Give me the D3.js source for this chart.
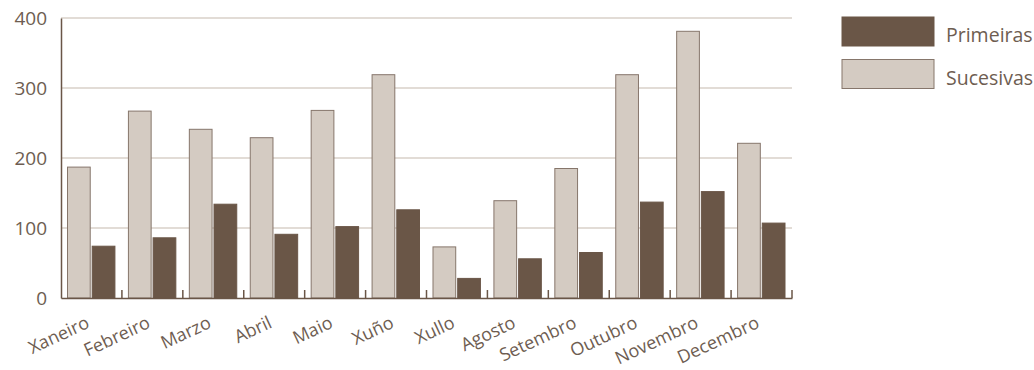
<!DOCTYPE html>
<html><head><meta charset="utf-8">
<script src="https://cdn.jsdelivr.net/npm/d3@7"></script>
<style>body{margin:0;background:#fff;} text{font-family:"Open Sans",sans-serif;}</style>
</head><body><svg id="c" width="1034" height="370"></svg>
<script>
const months = ["Xaneiro","Febreiro","Marzo","Abril","Maio","Xuño","Xullo","Agosto","Setembro","Outubro","Novembro","Decembro"];
const sucesivas = [187,267,241,229,268,319,73,139,185,319,381,221];
const primeiras = [74,86,134,91,102,126,28,56,65,137,152,107];
const seriesNames = ["Sucesivas","Primeiras"];
const yTicks = [0,100,200,300,400];

const dark = "#6a5647", light = "#d4cbc2", lightStroke = "#86766b", textCol = "#6e5d51", grid = "#d8d0c8";
const svg = d3.select("#c");
const m = {l:61, r:792, t:18, b:298};
const x = d3.scaleBand().domain(months).range([m.l, m.r]).paddingInner(0).paddingOuter(0);
const xs = d3.scaleBand().domain(seriesNames).range([6.5, x.bandwidth()-7]).paddingInner(0.08);
const y = d3.scaleLinear().domain([0,400]).range([m.b, m.t]);

// grid
svg.append("g").selectAll("line").data(yTicks.filter(d=>d>0)).join("line")
  .attr("x1", m.l).attr("x2", m.r).attr("y1", d=>y(d)).attr("y2", d=>y(d))
  .attr("stroke", grid).attr("stroke-width", 1.5);

// bars
const data = months.map((mo,i)=>({mo, Sucesivas:sucesivas[i], Primeiras:primeiras[i]}));
const g = svg.append("g");
data.forEach(d=>{
  seriesNames.forEach(s=>{
    g.append("rect")
      .attr("x", x(d.mo)+xs(s)).attr("width", xs.bandwidth())
      .attr("y", y(d[s])).attr("height", y(0)-y(d[s]))
      .attr("fill", s==="Sucesivas"?light:dark)
      .attr("stroke", s==="Sucesivas"?lightStroke:dark).attr("stroke-width",1);
  });
});

// y axis
const ya = svg.append("g").attr("transform",`translate(${m.l},0)`)
  .call(d3.axisLeft(y).tickValues(yTicks).tickSize(0).tickPadding(14));
ya.select(".domain").attr("stroke", dark).attr("stroke-width",1.5);
ya.selectAll("text").attr("fill", textCol).attr("font-size", 19).attr("font-family","'Open Sans', sans-serif");

// x axis
const xa = svg.append("g").attr("transform",`translate(0,${m.b})`)
  .call(d3.axisBottom(x).tickSize(0).tickPadding(0));
xa.select(".domain").attr("stroke", dark).attr("stroke-width",1.5);
xa.selectAll(".tick line").remove();
xa.selectAll(".tick text").attr("fill", textCol).attr("font-size", 18).attr("font-family","'Open Sans', sans-serif")
  .attr("text-anchor","end").attr("dy", 0).attr("y", 0)
  .attr("transform","translate(-1,29) rotate(-25)");
// boundary ticks
const bounds = months.map(mo=>x(mo)+x.bandwidth());
svg.append("g").selectAll("line").data(bounds).join("line")
  .attr("x1", d=>d).attr("x2", d=>d).attr("y1", m.b).attr("y2", m.b-8)
  .attr("stroke", dark).attr("stroke-width",1.5);

// legend
const legend = [{n:"Primeiras", c:dark, s:dark},{n:"Sucesivas", c:light, s:lightStroke}];
const lg = svg.append("g").selectAll("g").data(legend).join("g")
  .attr("transform",(d,i)=>`translate(842,${17+i*42.5})`);
lg.append("rect").attr("width",92).attr("height",29).attr("fill",d=>d.c).attr("stroke",d=>d.s);
lg.append("text").attr("x",104).attr("y",25).attr("font-size",19.5)
  .attr("fill",textCol).text(d=>d.n);
</script></body></html>
